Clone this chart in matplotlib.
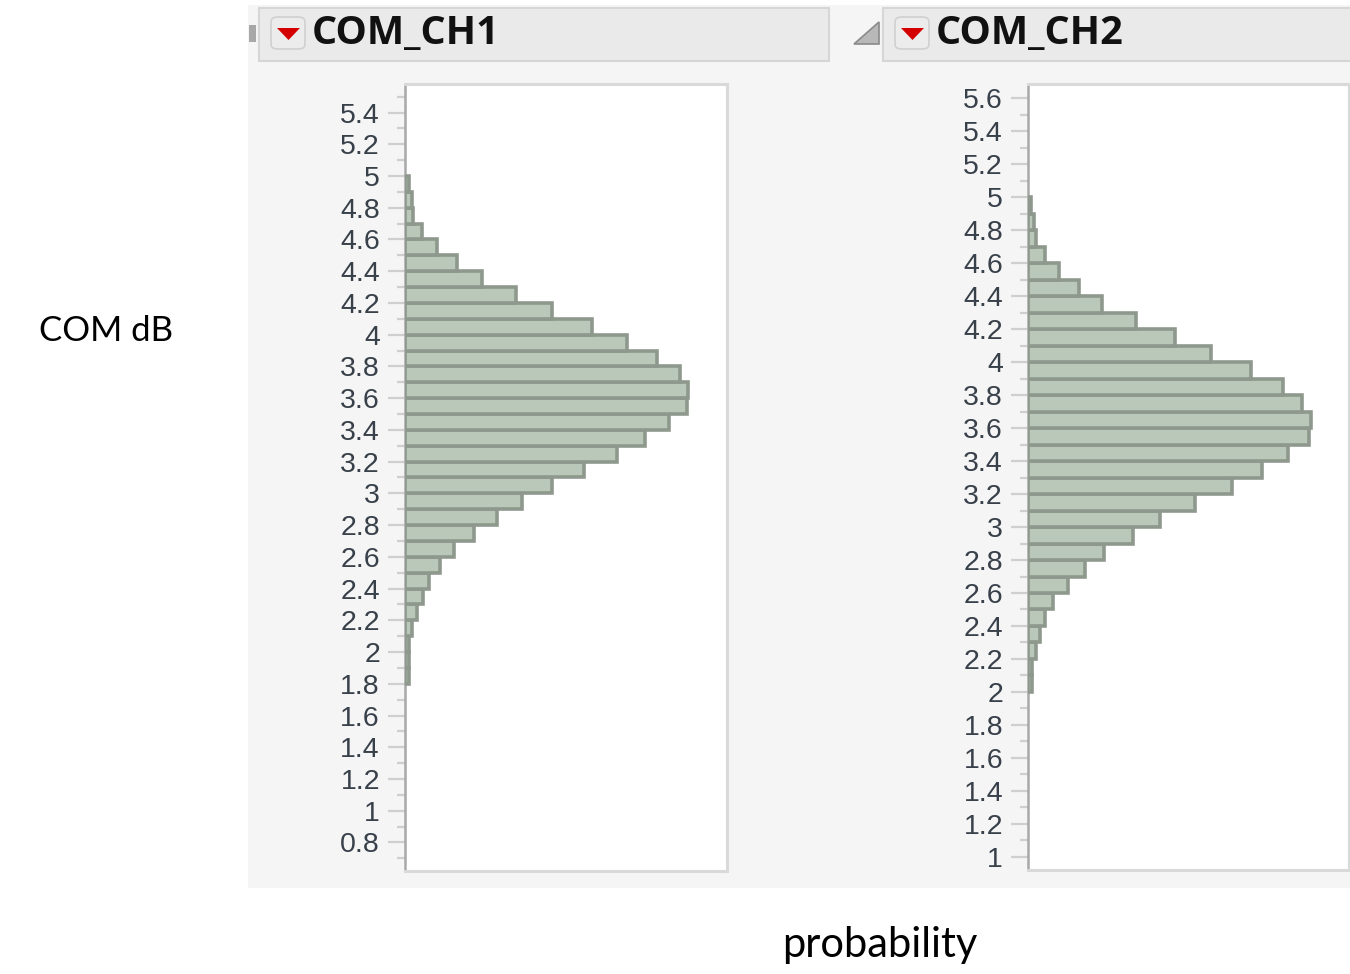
import matplotlib
matplotlib.use("Agg")
import matplotlib.pyplot as plt
import numpy as np
from matplotlib import font_manager
from matplotlib.patches import Rectangle, FancyBboxPatch, Polygon
from matplotlib.ticker import MultipleLocator, FuncFormatter

# histogram data: lower bin edge (dB) and probability per 0.1 dB bin
ch1_bins = [1.8, 1.9, 2.0, 2.1, 2.2, 2.3, 2.4, 2.5, 2.6, 2.7, 2.8, 2.9, 3.0, 3.1, 3.2, 3.3,
            3.4, 3.5, 3.6, 3.7, 3.8, 3.9, 4.0, 4.1, 4.2, 4.3, 4.4, 4.5, 4.6, 4.7, 4.8, 4.9]
ch1_prob = [0.0012, 0.0012, 0.0012, 0.0020, 0.0035, 0.0052, 0.0070, 0.0102, 0.0143, 0.0201,
            0.0268, 0.0341, 0.0428, 0.0521, 0.0618, 0.0699, 0.0769, 0.0822, 0.0824, 0.0801,
            0.0734, 0.0647, 0.0545, 0.0428, 0.0323, 0.0224, 0.0151, 0.0093, 0.0050, 0.0023,
            0.0020, 0.0012]
ch2_bins = [2.0, 2.1, 2.2, 2.3, 2.4, 2.5, 2.6, 2.7, 2.8, 2.9, 3.0, 3.1, 3.2, 3.3, 3.4,
            3.5, 3.6, 3.7, 3.8, 3.9, 4.0, 4.1, 4.2, 4.3, 4.4, 4.5, 4.6, 4.7, 4.8, 4.9]
ch2_prob = [0.0012, 0.0012, 0.0024, 0.0036, 0.0052, 0.0076, 0.0122, 0.0173, 0.0231, 0.0319,
            0.0401, 0.0508, 0.0620, 0.0712, 0.0791, 0.0854, 0.0861, 0.0833, 0.0775, 0.0678,
            0.0556, 0.0447, 0.0328, 0.0225, 0.0155, 0.0094, 0.0052, 0.0024, 0.0017, 0.0009]
titles = ["COM_CH1", "COM_CH2"]

names = {f.name for f in font_manager.fontManager.ttflist}
tick_font = "Liberation Sans Narrow" if "Liberation Sans Narrow" in names else "Liberation Sans"
label_font = "Lato" if "Lato" in names else "DejaVu Sans"

W, H = 1350, 974
fig = plt.figure(figsize=(W / 100, H / 100), dpi=100)
fig.patch.set_facecolor("white")


def fx(x):
    return x / W


def fy(y):
    return 1 - y / H


# grey report background
fig.patches.append(Rectangle((fx(248), fy(888)), fx(1350) - fx(248), fy(5) - fy(888),
                             transform=fig.transFigure, facecolor="#f5f5f5", edgecolor="none", zorder=-5))

# header bars
for x0, x1, title, tx in [(259, 829, titles[0], 312), (883, 1356, titles[1], 936)]:
    fig.patches.append(Rectangle((fx(x0), fy(61)), fx(x1) - fx(x0), fy(8) - fy(61),
                                 transform=fig.transFigure, facecolor="#eaeaea",
                                 edgecolor="#d6d6d6", lw=1.5, zorder=1))
    bx = tx - 41
    fig.patches.append(FancyBboxPatch((fx(bx), fy(49)), fx(bx + 34) - fx(bx), fy(17) - fy(49),
                                      boxstyle="round,pad=0,rounding_size=0.005",
                                      transform=fig.transFigure, facecolor="#ececec",
                                      edgecolor="#d0d0d0", lw=1.2, zorder=2))
    fig.patches.append(Polygon([(fx(bx + 6), fy(28)), (fx(bx + 29), fy(28)), (fx(bx + 17.5), fy(40))],
                               closed=True, transform=fig.transFigure, facecolor="#d40000",
                               edgecolor="none", zorder=3))
    fig.text(fx(tx), fy(34), title, fontsize=28.5, fontweight="bold", family="Open Sans",
             color="#111111", va="center", ha="left")

# small disclosure icons
fig.patches.append(Polygon([(fx(854), fy(44)), (fx(879), fy(44)), (fx(879), fy(22))], closed=True,
                           transform=fig.transFigure, facecolor="#b8b8b8", edgecolor="#8a8a8a",
                           lw=1.2, zorder=2))
fig.patches.append(Rectangle((fx(249), fy(42)), fx(256) - fx(249), fy(25) - fy(42),
                             transform=fig.transFigure, facecolor="#a8a8a8", edgecolor="none", zorder=2))

panels = [
    (ch1_bins, ch1_prob, [fx(405), fy(871), fx(727) - fx(405), fy(84) - fy(871)], (0.62, 5.58), 0.0938),
    (ch2_bins, ch2_prob, [fx(1028), fy(870), fx(1349) - fx(1028), fy(84) - fy(870)], (0.92, 5.687), 0.0977),
]

for bins, prob, rect, ylim, xmax in panels:
    ax = fig.add_axes(rect)
    ax.set_zorder(10)
    ax.set_facecolor("white")
    ax.barh(bins, prob, height=0.1, align="edge", color="#b9c8b8",
            edgecolor="#8e988d", linewidth=2.6, zorder=3)
    ax.set_ylim(*ylim)
    ax.set_xlim(0, xmax)
    ax.set_xticks([])
    ax.yaxis.set_major_locator(MultipleLocator(0.2))
    ax.yaxis.set_minor_locator(MultipleLocator(0.1))
    ax.yaxis.set_major_formatter(FuncFormatter(lambda v, p: f"{round(v, 1):g}"))
    ax.tick_params(axis="y", which="major", length=12, width=1.6, color="#cfcfcf",
                   pad=6, labelsize=20.5, labelcolor="#38404a")
    ax.tick_params(axis="y", which="minor", length=6, width=1.6, color="#cfcfcf")
    for lab in ax.get_yticklabels():
        lab.set_family(tick_font)
    for side in ["top", "right", "bottom"]:
        ax.spines[side].set_color("#d9d9d9")
        ax.spines[side].set_linewidth(2.2)
    ax.spines["left"].set_color("#a8a8a8")
    ax.spines["left"].set_linewidth(1.8)

fig.text(fx(106), fy(331), "COM dB", fontsize=25, family=label_font, color="black",
         ha="center", va="center")
fig.text(fx(880), fy(945), "probability", fontsize=30, family=label_font, color="black",
         ha="center", va="center")

fig.savefig("out.png", dpi=100, facecolor="white")
